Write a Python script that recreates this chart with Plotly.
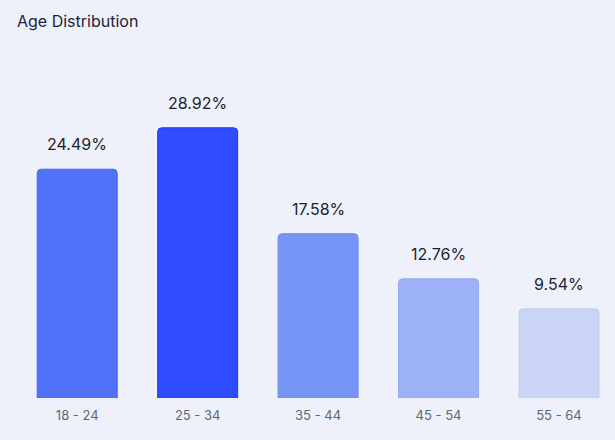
import plotly.graph_objects as go

categories = ["18 - 24", "25 - 34", "35 - 44", "45 - 54", "55 - 64"]
values = [24.49, 28.92, 17.58, 12.76, 9.54]
labels = ["24.49%", "28.92%", "17.58%", "12.76%", "9.54%"]
fill_colors = ["#5072F9", "#2F4DFE", "#7693F6", "#9DB2F6", "#C9D4F6"]
line_colors = ["#4566F2", "#1E3AF0", "#6C8AF2", "#93A9F4", "#C0CCF4"]

BG = "#EEF1FA"

fig = go.Figure()
fig.add_trace(go.Bar(
    x=categories, y=values,
    marker=dict(color=fill_colors, line=dict(color=line_colors, width=1), cornerradius=4),
    width=0.664,
    hoverinfo="skip",
))

for c, v, t in zip(categories, values, labels):
    fig.add_annotation(x=c, y=v, text=t, showarrow=False, yanchor="middle", yshift=25,
                       font=dict(family="Inter", size=16, color="#1B1F2E"))

fig.update_layout(
    width=615, height=440,
    paper_bgcolor=BG, plot_bgcolor=BG,
    margin=dict(l=17, r=0, t=71, b=42),
    showlegend=False,
    title=dict(text="Age Distribution", x=17/615, xref="container", xanchor="left",
               y=1-21/440, yref="container", yanchor="middle",
               font=dict(family="Inter", size=16, color="#1B2440")),
    xaxis=dict(range=[-0.5, 4.465], showgrid=False, zeroline=False, showline=False, ticks="",
               tickfont=dict(family="Inter", size=13, color="#5E6873"), ticklabelstandoff=8),
    yaxis=dict(range=[0, 35], visible=False, showgrid=False, zeroline=False),
)

fig.write_html("out.html")
